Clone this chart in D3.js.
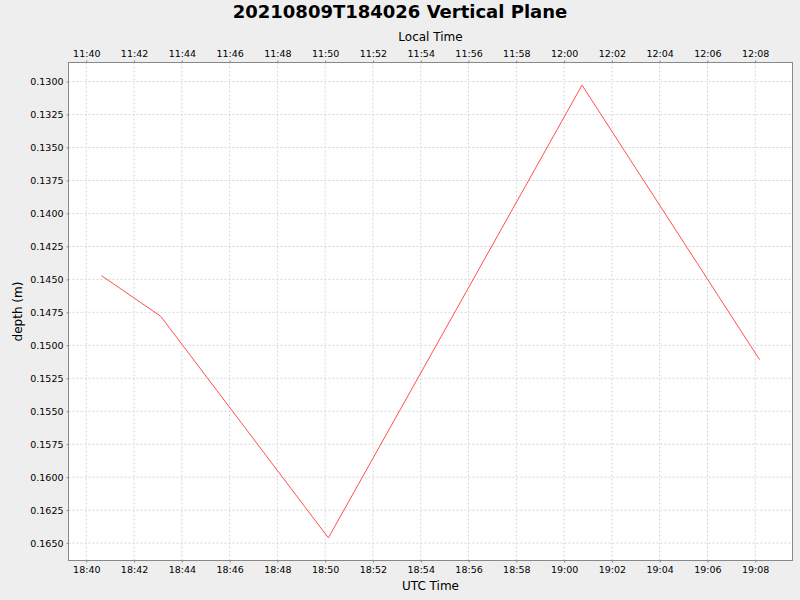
<!DOCTYPE html>
<html>
<head>
<meta charset="utf-8">
<script src="https://cdn.jsdelivr.net/npm/d3@7"></script>
<style>
  body { margin: 0; background: #eeeeee; }
  svg { display: block; font-family: "DejaVu Sans", sans-serif; }
</style>
</head>
<body>
<div id="chart"></div>
<script>
// data (UTC times, depth in m)
var times = ["2021-08-09T18:40:38Z", "2021-08-09T18:43:07Z", "2021-08-09T18:50:08Z", "2021-08-09T19:00:45Z", "2021-08-09T19:08:11Z"];
var depths = [0.14471, 0.14780, 0.16460, 0.13027, 0.15109];
var depthTicks = [0.1300, 0.1325, 0.1350, 0.1375, 0.1400, 0.1425, 0.1450, 0.1475, 0.1500, 0.1525, 0.1550, 0.1575, 0.1600, 0.1625, 0.1650];
var localOffsetHours = -7;
var titleText = "20210809T184026 Vertical Plane";

var W = 800, H = 600;
var plotLeft = 68.5, plotTop = 62.5, pw = 724, ph = 498;

var pts = times.map(function(t, i) { return { t: new Date(t), d: depths[i] }; });

var svg = d3.select('#chart').append('svg')
    .attr('width', W)
    .attr('height', H);

svg.append('rect').attr('width', W).attr('height', H).attr('fill', '#eeeeee');

// 5% margins on both axes like the original
var tExt = d3.extent(pts, function(p) { return +p.t; });
var tPad = (tExt[1] - tExt[0]) * 0.05;
var dExt = d3.extent(depths);
var dPad = (dExt[1] - dExt[0]) * 0.05;

var x = d3.scaleUtc()
    .domain([new Date(tExt[0] - tPad), new Date(tExt[1] + tPad)])
    .range([0, pw]);
var xLocal = d3.scaleUtc()
    .domain(x.domain().map(function(d) { return new Date(+d + localOffsetHours * 3600000); }))
    .range([0, pw]);
var y = d3.scaleLinear()
    .domain([dExt[0] - dPad, dExt[1] + dPad])
    .range([0, ph]);

var g = svg.append('g').attr('transform', 'translate(' + plotLeft + ',' + plotTop + ')');

g.append('rect')
    .attr('width', pw)
    .attr('height', ph)
    .attr('fill', '#ffffff');

var xTicks = x.ticks(d3.utcMinute.every(2));

// grid
g.append('g').selectAll('line.vg').data(xTicks).enter().append('line')
    .attr('x1', function(d) { return x(d); })
    .attr('x2', function(d) { return x(d); })
    .attr('y1', 0).attr('y2', ph)
    .attr('stroke', '#d6d6d6')
    .attr('stroke-dasharray', '2,2');
g.append('g').selectAll('line.hg').data(depthTicks).enter().append('line')
    .attr('x1', 0).attr('x2', pw)
    .attr('y1', function(d) { return y(d); })
    .attr('y2', function(d) { return y(d); })
    .attr('stroke', '#d6d6d6')
    .attr('stroke-dasharray', '2,2');

// the series
var line = d3.line()
    .x(function(p) { return x(p.t); })
    .y(function(p) { return y(p.d); });
g.append('path')
    .datum(pts)
    .attr('d', line)
    .attr('fill', 'none')
    .attr('stroke', '#ff5050')
    .attr('stroke-width', 1);

// axes
var fmt = d3.utcFormat('%H:%M');
var xb = g.append('g').attr('transform', 'translate(0,' + ph + ')')
    .call(d3.axisBottom(x).ticks(d3.utcMinute.every(2)).tickFormat(fmt).tickSize(2).tickSizeOuter(0).tickPadding(4));
var xt = g.append('g')
    .call(d3.axisTop(xLocal).ticks(d3.utcMinute.every(2)).tickFormat(fmt).tickSize(2).tickSizeOuter(0).tickPadding(4));
var yl = g.append('g')
    .call(d3.axisLeft(y).tickValues(depthTicks).tickFormat(d3.format('.4f')).tickSize(2).tickSizeOuter(0).tickPadding(3));

[xb, xt, yl].forEach(function(a) {
    a.select('.domain').remove();
    a.selectAll('line').attr('stroke', '#888888');
    a.selectAll('text').attr('font-size', '9.5px').attr('fill', '#000000').attr('font-family', '"DejaVu Sans", sans-serif');
});

g.append('rect')
    .attr('width', pw)
    .attr('height', ph)
    .attr('fill', 'none')
    .attr('stroke', '#888888');

// titles
svg.append('text')
    .attr('x', 400).attr('y', 18)
    .attr('text-anchor', 'middle')
    .attr('font-size', '18px')
    .attr('font-weight', 'bold')
    .text(titleText);
svg.append('text')
    .attr('x', plotLeft + pw / 2).attr('y', 41)
    .attr('text-anchor', 'middle')
    .attr('font-size', '12px')
    .text('Local Time');
svg.append('text')
    .attr('x', plotLeft + pw / 2).attr('y', 590)
    .attr('text-anchor', 'middle')
    .attr('font-size', '12px')
    .text('UTC Time');
svg.append('text')
    .attr('transform', 'translate(22,' + (plotTop + ph / 2) + ') rotate(-90)')
    .attr('text-anchor', 'middle')
    .attr('font-size', '12px')
    .text('depth (m)');
</script>
</body>
</html>
